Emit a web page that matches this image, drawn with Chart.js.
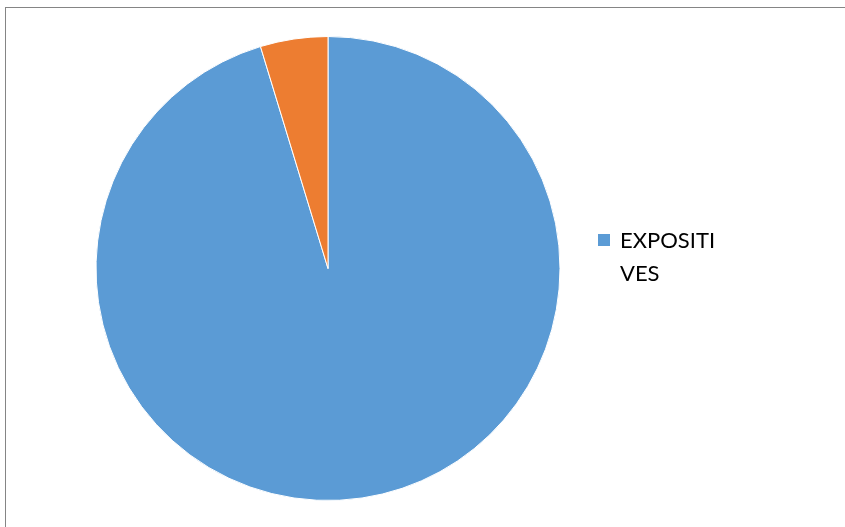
<!DOCTYPE html>
<html>
<head>
<meta charset="utf-8">
<script src="https://cdn.jsdelivr.net/npm/chart.js@4.4.0/dist/chart.umd.min.js"></script>
<style>
    html, body { margin: 0; padding: 0; background: #fff; overflow: hidden; }
    #frame {
        position: absolute; left: 5px; top: 7px; width: 900px; height: 600px;
        border-left: 1px solid #858585; border-top: 1px solid #858585;
    }
    #wrap { position: absolute; left: 0; top: 0; width: 845px; height: 527px; }
    #legend {
        position: absolute; left: 598px; top: 224px;
        font-family: Lato, "Open Sans", sans-serif; font-size: 22px; line-height: 32.5px; color: #000;
    }
    .item { position: relative; padding-left: 22px; width: 100px; word-break: break-all; }
    .box { position: absolute; left: 0; top: 10px; width: 12px; height: 12px; }
</style>
</head>
<body>
<div id="frame"></div>
<div id="wrap"><canvas id="pieChart"></canvas></div>
<div id="legend"></div>
<script>
const labels = ['EXPOSITIVES', 'OTROS'];
const values = [95.3, 4.7];
const colors = ['#5b9bd5', '#ed7d31'];

document.addEventListener('DOMContentLoaded', () => {
    renderChart();
    renderLegend();
});

function renderChart() {
    const ctx = document.getElementById('pieChart').getContext('2d');

    new Chart(ctx, {
        type: 'pie',
        data: {
            labels: labels,
            datasets: [{
                data: values,
                backgroundColor: colors,
                borderColor: '#ffffff',
                borderWidth: 1,
                hoverOffset: 0
            }]
        },
        options: {
            responsive: true,
            maintainAspectRatio: false,
            animation: false,
            layout: { padding: { left: 95, right: 284, top: 36, bottom: 26 } },
            plugins: {
                legend: { display: false },
                tooltip: { enabled: true }
            }
        }
    });
}

// Excel only had room for the first entry
function renderLegend() {
    const legend = document.getElementById('legend');
    const div = document.createElement('div');
    div.className = 'item';
    div.innerHTML = `<span class="box" style="background:${colors[0]}"></span>${labels[0]}`;
    legend.appendChild(div);
}
</script>
</body>
</html>
